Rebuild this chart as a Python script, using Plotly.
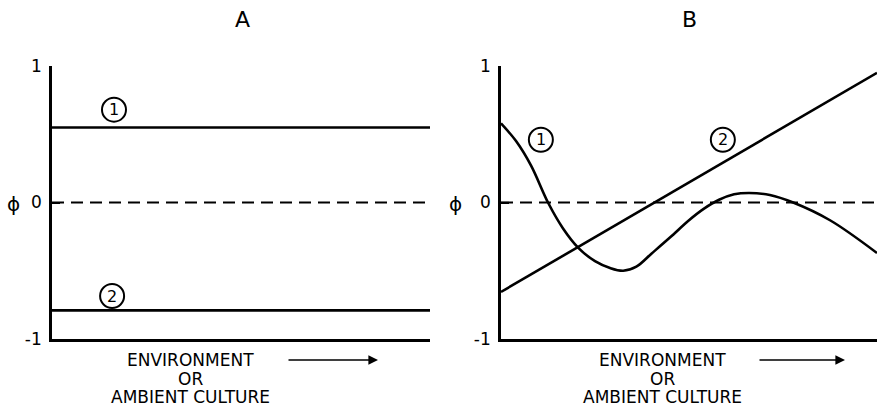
import plotly.graph_objects as go

# ---- data ----
x_range = [0, 10]
a_line1_y = 0.55
a_line2_y = -0.79

b_curve1_x = [0, 0.4, 0.8, 1.25, 1.65, 2.05, 2.5, 2.9, 3.25, 3.6, 4.0, 4.5, 5.0, 5.4, 5.8,
              6.2, 6.6, 7.15, 7.77, 8.75, 10]
b_curve1_y = [0.58, 0.45, 0.27, 0.0, -0.19, -0.33, -0.43, -0.48, -0.50, -0.47, -0.375, -0.255,
              -0.13, -0.045, 0.02, 0.06, 0.07, 0.055, 0.0, -0.13, -0.37]
b_line2_x = [0, 10]
b_line2_y = [-0.655, 0.95]

tick_vals = [-1, 0, 1]
tick_text = ["-1", "0", "1"]
panel_titles = ["A", "B"]
xlabel_lines = ["ENVIRONMENT", "OR", "AMBIENT CULTURE"]

FONT = "DejaVu Sans, Liberation Sans, sans-serif"
LW = 2.6

fig = go.Figure()

# Panel A
fig.add_trace(go.Scatter(x=x_range, y=[a_line1_y, a_line1_y], mode="lines",
                         line=dict(color="black", width=LW), xaxis="x", yaxis="y"))
fig.add_trace(go.Scatter(x=x_range, y=[a_line2_y, a_line2_y], mode="lines",
                         line=dict(color="black", width=LW), xaxis="x", yaxis="y"))
fig.add_trace(go.Scatter(x=x_range, y=[0, 0], mode="lines",
                         line=dict(color="black", width=2.2, dash="12px,7px"), xaxis="x", yaxis="y"))
# Panel B
fig.add_trace(go.Scatter(x=x_range, y=[0, 0], mode="lines",
                         line=dict(color="black", width=2.2, dash="12px,7px"), xaxis="x2", yaxis="y2"))
fig.add_trace(go.Scatter(x=b_line2_x, y=b_line2_y, mode="lines",
                         line=dict(color="black", width=LW), xaxis="x2", yaxis="y2"))
fig.add_trace(go.Scatter(x=b_curve1_x, y=b_curve1_y, mode="lines",
                         line=dict(color="black", width=LW, shape="spline", smoothing=1.0),
                         xaxis="x2", yaxis="y2"))

xa = dict(range=x_range, showline=True, linecolor="black", linewidth=LW, showgrid=False,
          zeroline=False, showticklabels=False, ticks="", fixedrange=True, automargin=False)
ya = dict(range=[-1, 1], showline=True, linecolor="black", linewidth=LW, showgrid=False,
          zeroline=False, tickvals=tick_vals, ticktext=tick_text, ticks="inside",
          ticklen=8, tickwidth=2, tickcolor="black", ticklabelstandoff=4, automargin=False,
          tickfont=dict(family=FONT, size=17, color="black"), fixedrange=True)

yd = [1 - 339 / 406, 1 - 66 / 406]
fig.update_layout(
    width=882, height=406, autosize=False,
    margin=dict(l=0, r=0, t=0, b=0, pad=0, autoexpand=False),
    paper_bgcolor="white", plot_bgcolor="white",
    showlegend=False,
    xaxis=dict(xa, domain=[52 / 882, 430 / 882], anchor="y"),
    yaxis=dict(ya, domain=yd, anchor="x"),
    xaxis2=dict(xa, domain=[501 / 882, 877 / 882], anchor="y2"),
    yaxis2=dict(ya, domain=yd, anchor="x2"),
    font=dict(family=FONT, color="black"),
)

# circled labels
circles = [("x", "y", 1.64, 0.68, "1"), ("x", "y", 1.59, -0.685, "2"),
           ("x2", "y2", 1.06, 0.46, "1"), ("x2", "y2", 5.9, 0.46, "2")]
for xr, yr, cx, cy, t in circles:
    fig.add_shape(type="circle", xref=xr, yref=yr, xsizemode="pixel", ysizemode="pixel",
                  xanchor=cx, yanchor=cy, x0=-12, x1=12, y0=-12, y1=12,
                  line=dict(color="black", width=2))
    fig.add_annotation(x=cx, y=cy, xref=xr, yref=yr, text=t, showarrow=False,
                       xanchor="center", yanchor="middle",
                       font=dict(family=FONT, size=16, color="black"))

# titles, phi, x labels, arrows
line_y = [360, 379, 397]
for i, (cx_px, arrow_px, title_px) in enumerate([(190, (287, 378), 243), (662, (758, 845), 689)]):
    fig.add_annotation(x=title_px / 882, y=1 - 19 / 406, xref="paper", yref="paper",
                       xanchor="center", yanchor="middle",
                       text=panel_titles[i], showarrow=False,
                       font=dict(family=FONT, size=22, color="black"))
    for txt, ly in zip(xlabel_lines, line_y):
        fig.add_annotation(x=cx_px / 882, y=1 - ly / 406, xref="paper", yref="paper",
                           xanchor="center", yanchor="middle", text=txt, showarrow=False,
                           font=dict(family=FONT, size=17, color="black"))
    fig.add_annotation(x=arrow_px[1] / 882, y=1 - 360 / 406, xref="paper", yref="paper",
                       ax=arrow_px[0] - arrow_px[1], ay=0, axref="pixel", ayref="pixel",
                       text="", showarrow=True, arrowhead=2, arrowsize=1.2, arrowwidth=1.6,
                       arrowcolor="black")

for px in (13, 455):
    fig.add_annotation(x=px / 882, y=1 - 204 / 406, xref="paper", yref="paper",
                       xanchor="center", yanchor="middle",
                       text="ϕ", showarrow=False,
                       font=dict(family=FONT, size=20, color="black"))

fig.write_html("out.html")
